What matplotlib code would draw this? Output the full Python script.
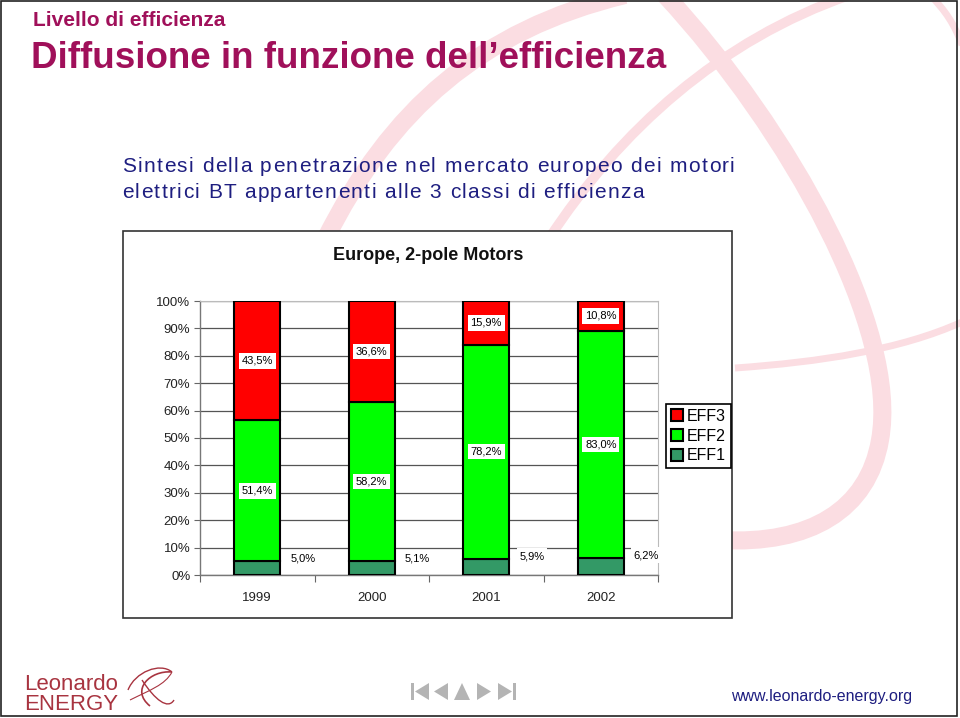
import numpy as np
import matplotlib
matplotlib.use("Agg")
from matplotlib import pyplot as plt
from matplotlib.path import Path
from matplotlib.patches import PathPatch, Rectangle, Polygon
from matplotlib.font_manager import FontProperties

plt.rcParams['font.family'] = ['Liberation Sans', 'DejaVu Sans']

years = ["1999", "2000", "2001", "2002"]
eff1 = [5.0, 5.1, 5.9, 6.2]
eff2 = [51.4, 58.2, 78.2, 83.0]
eff3 = [43.5, 36.6, 15.9, 10.8]
y_ticks = [0, 10, 20, 30, 40, 50, 60, 70, 80, 90, 100]

col_eff3 = "#FF0000"
col_eff2 = "#00FF00"
col_eff1 = "#339966"
pink = "#FBDDE2"
title_col = "#A0105A"
navy = "#1E1E80"

W, H = 960, 718
fig = plt.figure(figsize=(W / 100, H / 100), dpi=100)
renderer = fig.canvas.get_renderer()

# background layer in pixel coordinates
bg = fig.add_axes([0, 0, 1, 1])
bg.set_xlim(0, W)
bg.set_ylim(H, 0)
bg.axis("off")


def curve(pts, lw, color=pink, z=1):
    codes = [Path.MOVETO] + [Path.CURVE4] * (len(pts) - 1)
    bg.add_patch(PathPatch(Path(pts, codes), fc="none", ec=color, lw=lw,
                           capstyle="butt", zorder=z))


curve([(325, 240), (390, 110), (480, 30), (625, -5)], 13)
curve([(548, 240), (620, 130), (720, 40), (850, -5)], 7)
curve([(665, -5), (790, 130), (900, 330), (880, 440),
       (868, 510), (810, 545), (720, 540)], 13)
curve([(735, 368), (820, 362), (900, 350), (962, 322)], 5)
curve([(930, -5), (945, 10), (955, 25), (962, 45)], 5)

# slide border
bg.add_patch(Rectangle((1, 1), W - 4, H - 3, fc="none", ec="#222222", lw=1.2, zorder=2))


def spaced_text(x0, y, s, size, color, track):
    # draw text char by char with extra letter spacing (pixels)
    prop = FontProperties(family="Liberation Sans", size=size)
    bar_w = renderer.get_text_width_height_descent("|", prop, ismath=False)[0]
    for i, ch in enumerate(s):
        w = renderer.get_text_width_height_descent(s[:i] + "|", prop, ismath=False)[0] - bar_w
        bg.text(x0 + w + i * track, y, ch, color=color, fontproperties=prop,
                va="center", ha="left", zorder=3)


# headings
bg.text(33, 20, "Livello di efficienza", color=title_col, fontsize=15,
        fontweight="bold", va="center", ha="left", zorder=3)
bg.text(31, 58, "Diffusione in funzione dell\u2019efficienza", color=title_col,
        fontsize=26.5, fontweight="bold", va="center", ha="left", zorder=3)
spaced_text(122, 166, "Sintesi della penetrazione nel mercato europeo dei motori",
            15, navy, 1.4)
spaced_text(122, 193, "elettrici BT appartenenti alle 3 classi di efficienza",
            15, navy, 1.4)

# chart box
bg.add_patch(Rectangle((123, 231), 609, 387, fc="white", ec="#333333", lw=1.2, zorder=4))
bg.text(428, 255, "Europe, 2-pole Motors", fontsize=13, fontweight="bold",
        ha="center", va="center", color="#111111", zorder=5)

# footer
bg.text(24, 684, "Leonardo", color="#A83440", fontsize=16, ha="left", va="center", zorder=3)
bg.text(24, 704, "ENERGY", color="#A83440", fontsize=16, ha="left", va="center", zorder=3)
for pts, lw in [([(128, 690), (135, 672), (160, 662), (172, 672)], 1.0),
                ([(150, 706), (130, 690), (150, 670), (172, 672)], 1.2),
                ([(142, 680), (155, 700), (168, 710), (174, 700)], 1.0),
                ([(130, 700), (150, 690), (165, 685), (172, 672)], 0.8)]:
    curve(pts, lw, color="#A83440", z=3)

nav = "#B4B4B4"
bg.add_patch(Rectangle((411, 683), 3, 17, fc=nav, ec="none", zorder=3))
bg.add_patch(Polygon([(429, 683), (429, 700), (415, 691.5)], fc=nav, ec="none", zorder=3))
bg.add_patch(Polygon([(448, 683), (448, 700), (434, 691.5)], fc=nav, ec="none", zorder=3))
bg.add_patch(Polygon([(454, 700), (470, 700), (462, 683)], fc=nav, ec="none", zorder=3))
bg.add_patch(Polygon([(477, 683), (477, 700), (491, 691.5)], fc=nav, ec="none", zorder=3))
bg.add_patch(Polygon([(498, 683), (498, 700), (512, 691.5)], fc=nav, ec="none", zorder=3))
bg.add_patch(Rectangle((513, 683), 3, 17, fc=nav, ec="none", zorder=3))
bg.text(912, 697, "www.leonardo-energy.org", color=navy, fontsize=11.5,
        ha="right", va="center", zorder=3)

# chart
ax = fig.add_axes([200 / W, 1 - 575 / H, (658 - 200) / W, (575 - 301) / H])
ax.set_zorder(10)
ax.patch.set_alpha(0)
x = np.arange(len(years))
bw = 0.4
b1 = ax.bar(x, eff1, bw, color=col_eff1, edgecolor="black", lw=1.5, label="EFF1", zorder=3)
b2 = ax.bar(x, eff2, bw, bottom=eff1, color=col_eff2, edgecolor="black", lw=1.5,
            label="EFF2", zorder=3)
bottom3 = np.array(eff1) + np.array(eff2)
b3 = ax.bar(x, eff3, bw, bottom=bottom3, color=col_eff3, edgecolor="black", lw=1.5,
            label="EFF3", zorder=3)


def fmt(v):
    return f"{v:.1f}".replace(".", ",") + "%"


box = dict(fc="white", ec="none", pad=2.0)
for i in range(len(years)):
    ax.text(x[i], eff1[i] + eff2[i] / 2, fmt(eff2[i]), ha="center", va="center",
            fontsize=8, bbox=box, zorder=5)
    ax.text(x[i], bottom3[i] + eff3[i] / 2, fmt(eff3[i]), ha="center", va="center",
            fontsize=8, bbox=box, zorder=5)
    ax.text(x[i] + 0.4, eff1[i] + 1.0, fmt(eff1[i]), ha="center", va="center",
            fontsize=8, bbox=box, zorder=5, clip_on=False)

ax.set_xlim(-0.5, len(years) - 0.5)
ax.set_ylim(0, 100)
ax.set_yticks(y_ticks)
ax.set_yticklabels([f"{t}%" for t in y_ticks], fontsize=9.5, color="#222222")
ax.set_xticks(np.arange(-0.5, len(years), 1.0))
ax.set_xticklabels([])
ax.set_xticks(x, minor=True)
ax.set_xticklabels(years, minor=True, fontsize=9.5, color="#222222")
ax.tick_params(axis="x", which="major", length=5, direction="out", color="#666666")
ax.tick_params(axis="x", which="minor", length=0, pad=12)
ax.tick_params(axis="y", length=4, direction="out", color="#666666", pad=3)
ax.yaxis.grid(True, color="#555555", lw=0.9, zorder=0)
ax.set_axisbelow(True)
for s in ["top", "right"]:
    ax.spines[s].set_color("#BBBBBB")
for s in ["left", "bottom"]:
    ax.spines[s].set_color("#777777")
    ax.spines[s].set_linewidth(1.0)

leg = fig.legend(handles=[b3, b2, b1], labels=["EFF3", "EFF2", "EFF1"],
                 loc="upper left", bbox_to_anchor=(666 / W, 1 - 404 / H),
                 fancybox=False, edgecolor="black", fontsize=11.5, handlelength=0.75,
                 handleheight=0.75, handletextpad=0.25, borderpad=0.3,
                 labelspacing=0.3, borderaxespad=0, framealpha=1)
leg.get_frame().set_linewidth(1.2)
leg.set_zorder(20)

fig.savefig("out.png", dpi=100)
